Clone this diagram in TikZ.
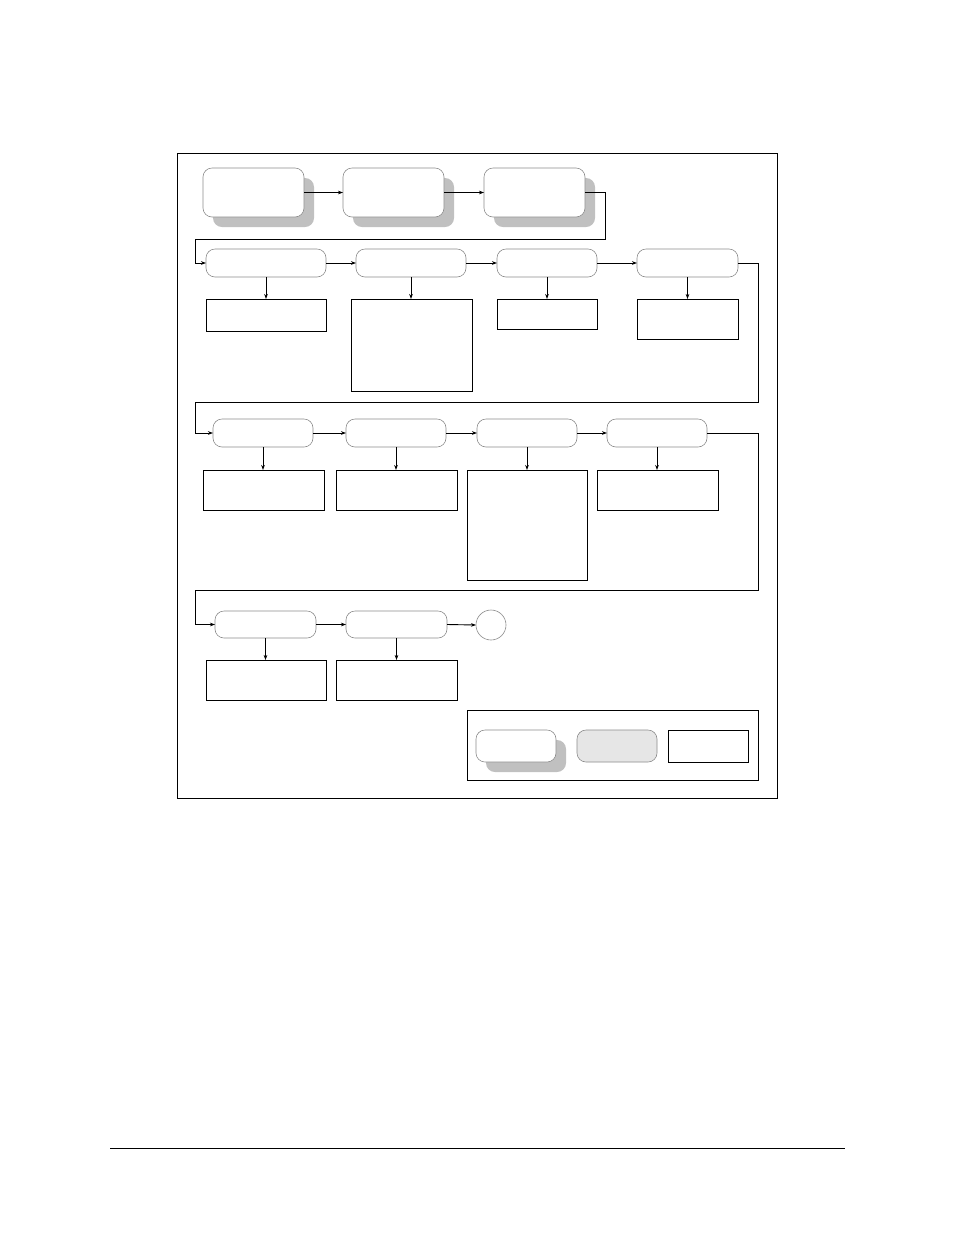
\documentclass[tikz,border=0pt]{standalone}
\usetikzlibrary{arrows.meta,shadows}
\definecolor{shgray}{HTML}{C0C0C0}
\definecolor{edgegray}{HTML}{8C8C8C}
\definecolor{legfill}{HTML}{E6E6E6}
\begin{document}
\begin{tikzpicture}[x=1pt,y=-1pt,
  rbox/.style={draw=edgegray,line width=0.6pt,fill=white,rounded corners=9pt,
     inner sep=0pt,outer sep=0pt,minimum width=#1},
  rbox/.default=100pt,
  shbox/.style={rbox=#1,general shadow={fill=shgray,shadow xshift=10pt,shadow yshift=-10pt}},
  shbox/.default=101pt,
  sqbox/.style={draw=black,line width=0.9pt,fill=white,inner sep=0pt,outer sep=0pt},
  endc/.style={circle,draw=edgegray,line width=0.6pt,inner sep=0pt,outer sep=0pt,minimum size=30pt},
  conn/.style={line width=0.9pt,-{Stealth[length=5pt,width=3.6pt]}},
  frame/.style={draw=black,line width=0.9pt}
]
\useasboundingbox[fill=white] (0,0) rectangle (954,1235);
\draw[frame] (177,153) rectangle (777,798);
\draw[line width=0.9pt] (110,1148) -- (845,1148);

% row 1
\node[shbox,minimum height=49pt] (A) at (253.5,192.5) {};
\node[shbox,minimum height=49pt] (B) at (393.5,192.5) {};
\node[shbox,minimum height=49pt] (C) at (534.5,192.5) {};

% row 2
\node[rbox=120pt,minimum height=28pt] (D) at (266,263) {};
\node[rbox=110pt,minimum height=28pt] (E) at (411,263) {};
\node[rbox=100pt,minimum height=28pt] (F) at (547,263) {};
\node[rbox=101pt,minimum height=28pt] (G) at (687.5,263) {};
\node[sqbox,minimum width=120pt,minimum height=32pt] (Dp) at (266,315) {};
\node[sqbox,minimum width=121pt,minimum height=92pt] (Ep) at (411.5,345) {};
\node[sqbox,minimum width=100pt,minimum height=30pt] (Fp) at (547,314) {};
\node[sqbox,minimum width=101pt,minimum height=40pt] (Gp) at (687.5,319) {};

% row 3
\node[rbox=100pt,minimum height=28pt] (H) at (263,433) {};
\node[rbox=100pt,minimum height=28pt] (I) at (396,433) {};
\node[rbox=100pt,minimum height=28pt] (J) at (527,433) {};
\node[rbox=100pt,minimum height=28pt] (K) at (657,433) {};
\node[sqbox,minimum width=121pt,minimum height=40pt] (Hp) at (263.5,490) {};
\node[sqbox,minimum width=121pt,minimum height=40pt] (Ip) at (396.5,490) {};
\node[sqbox,minimum width=120pt,minimum height=110pt] (Jp) at (527,525) {};
\node[sqbox,minimum width=121pt,minimum height=40pt] (Kp) at (657.5,490) {};

% row 4
\node[rbox=101pt,minimum height=27pt] (L) at (265.5,624.5) {};
\node[rbox=101pt,minimum height=27pt] (M) at (396.5,624.5) {};
\node[endc] (N) at (491,625) {};
\node[sqbox,minimum width=120pt,minimum height=40pt] (Lp) at (266,680) {};
\node[sqbox,minimum width=121pt,minimum height=40pt] (Mp) at (396.5,680) {};

% legend
\draw[frame] (467,710) rectangle (758,780);
\node[shbox=80pt,minimum height=32pt] (S1) at (516,746) {};
\node[rbox=80pt,minimum height=32pt,fill=legfill] (S2) at (617,746) {};
\node[sqbox,minimum width=80pt,minimum height=32pt] (S3) at (708,746) {};

% turn points
\coordinate (r1) at (605,239);
\coordinate (l1) at (195,239);
\coordinate (r2) at (758,402);
\coordinate (l2) at (195,402);
\coordinate (r3) at (758,590);
\coordinate (l3) at (195,590);

% horizontal connectors
\draw[conn] (A.east) -- (B.west);
\draw[conn] (B.east) -- (C.west);
\draw[conn] (C.east) -| (r1) -- (l1) |- (D.west);
\draw[conn] (D.east) -- (E.west);
\draw[conn] (E.east) -- (F.west);
\draw[conn] (F.east) -- (G.west);
\draw[conn] (G.east) -| (r2) -- (l2) |- (H.west);
\draw[conn] (H.east) -- (I.west);
\draw[conn] (I.east) -- (J.west);
\draw[conn] (J.east) -- (K.west);
\draw[conn] (K.east) -| (r3) -- (l3) |- (L.west);
\draw[conn] (L.east) -- (M.west);
\draw[conn] (M.east) -- (N.west);

% vertical connectors
\foreach \u/\v in {D/Dp,E/Ep,F/Fp,G/Gp,H/Hp,I/Ip,J/Jp,K/Kp,L/Lp,M/Mp}
  \draw[conn] (\u.south) -- (\u.south |- \v.north);
\end{tikzpicture}
\end{document}
